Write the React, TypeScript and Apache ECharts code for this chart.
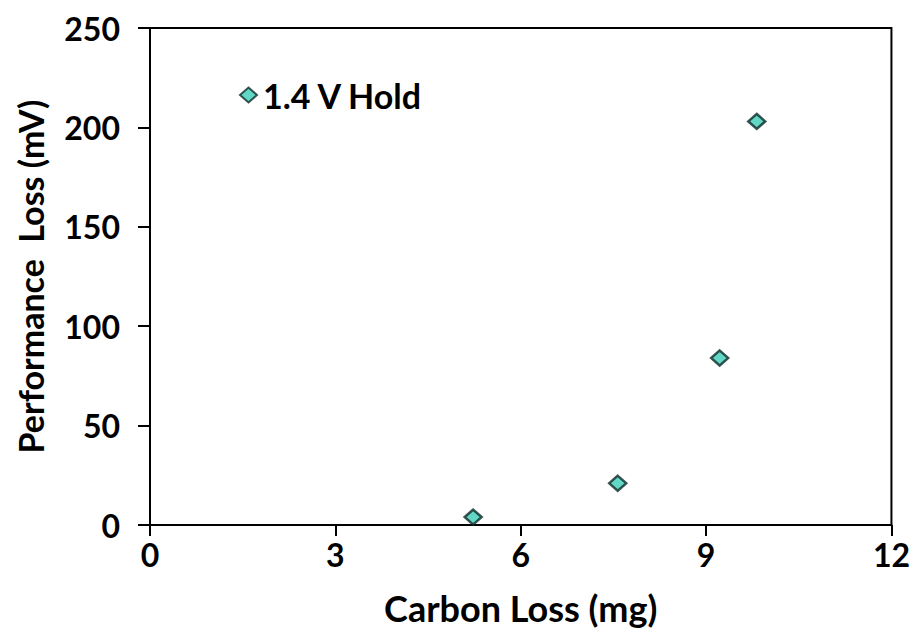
import React, { useEffect, useRef } from "react";
import * as echarts from "echarts";

const seriesName = "1.4 V Hold";
const carbonLoss = [5.23, 7.57, 9.22, 9.82];
const perfLoss = [4, 21, 84, 203];
const xTitle = "Carbon Loss (mg)";
const yTitle = "Performance  Loss (mV)";

const FONT = "Lato, 'Open Sans', sans-serif";

export default function App() {
  const ref = useRef<HTMLDivElement>(null);
  useEffect(() => {
    const chart = echarts.init(ref.current!, null, { renderer: "svg" });
    chart.setOption({
      animation: false,
      backgroundColor: "#ffffff",
      grid: {
        left: 150,
        right: 20,
        top: 28,
        bottom: 109,
        show: true,
        borderColor: "#000",
        borderWidth: 2,
        backgroundColor: "transparent",
      },
      legend: {
        left: 234,
        top: 73,
        itemWidth: 17,
        itemHeight: 15,
        data: [{ name: seriesName, icon: "diamond" }],
        textStyle: { fontFamily: FONT, fontWeight: "bold", fontSize: 34, color: "#000", padding: [0, 0, 0, 1] },
      },
      xAxis: {
        type: "value",
        min: 0,
        max: 12,
        interval: 3,
        name: xTitle,
        nameLocation: "middle",
        nameGap: 65,
        nameTextStyle: { fontFamily: FONT, fontWeight: "bold", fontSize: 36, color: "#000" },
        axisLine: { show: true, lineStyle: { color: "#000", width: 2 } },
        axisTick: { show: true, inside: false, length: 11, lineStyle: { color: "#000", width: 2 } },
        axisLabel: { margin: 13, fontFamily: FONT, fontWeight: "bold", fontSize: 32, color: "#000" },
        splitLine: { show: false },
      },
      yAxis: {
        type: "value",
        min: 0,
        max: 250,
        interval: 50,
        name: yTitle,
        nameLocation: "middle",
        nameGap: 103,
        nameRotate: 90,
        nameTextStyle: { fontFamily: FONT, fontWeight: "bold", fontSize: 34, color: "#000" },
        axisLine: { show: true, lineStyle: { color: "#000", width: 2 } },
        axisTick: { show: true, inside: false, length: 12, lineStyle: { color: "#000", width: 2 } },
        axisLabel: { margin: 30, fontFamily: FONT, fontWeight: "bold", fontSize: 32, color: "#000" },
        splitLine: { show: false },
      },
      series: [
        {
          name: seriesName,
          type: "scatter",
          symbol: "diamond",
          symbolSize: [17, 15],
          itemStyle: { color: "#3ccdb6", borderColor: "#0d2b28", borderWidth: 2.5 },
          data: carbonLoss.map((x, i) => [x, perfLoss[i]]),
        },
      ],
    });
    return () => chart.dispose();
  }, []);
  return <div ref={ref} style={{ width: 913, height: 634, position: "absolute", left: 0, top: 0 }} />;
}
